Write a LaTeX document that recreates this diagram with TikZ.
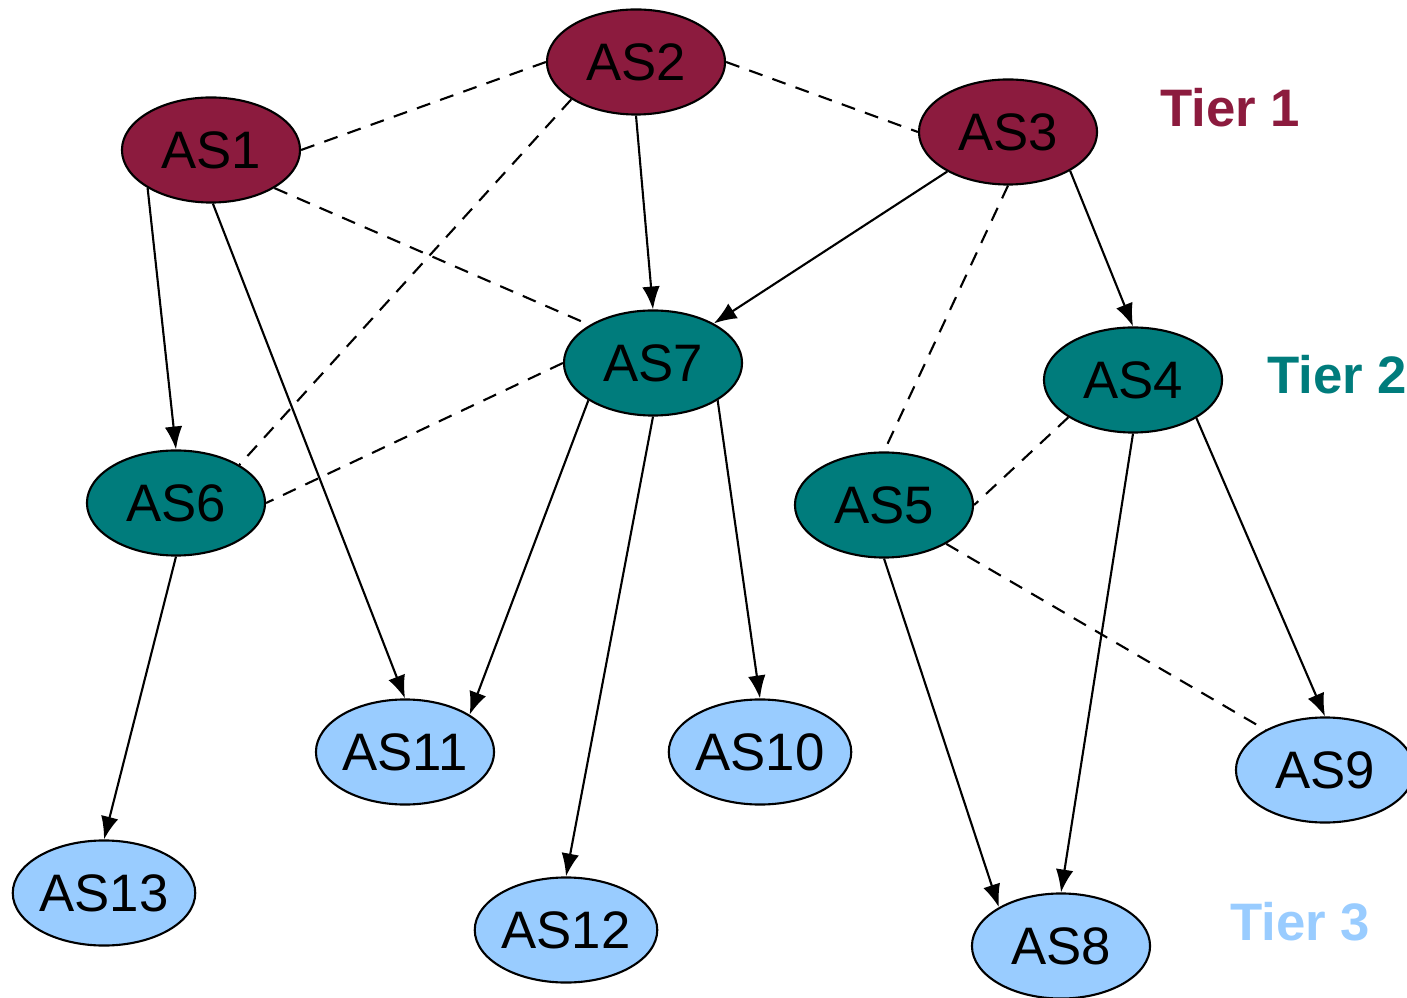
\documentclass[tikz,border=0pt]{standalone}
\usepackage{fontspec}
\setmainfont{Liberation Sans}
\usetikzlibrary{shapes.geometric,arrows.meta}

\definecolor{tieronecol}{RGB}{140,27,62}
\definecolor{tiertwocol}{RGB}{0,124,124}
\definecolor{tierthreecol}{RGB}{153,204,255}

\begin{document}
\begin{tikzpicture}[x=0.01cm,y=-0.01cm,
    as/.style={ellipse,draw=black,semithick,minimum width=1.78cm,minimum height=1.05cm,inner sep=0pt,font=\fontsize{15}{18}\selectfont},
    tierone/.style={as,fill=tieronecol},
    tiertwo/.style={as,fill=tiertwocol},
    tierthree/.style={as,fill=tierthreecol},
    tierlabel/.style={font=\fontsize{15}{18}\selectfont\bfseries},
    link/.style={semithick,-{Latex[length=6.5pt,width=5pt]}},
    peer/.style={semithick,dash pattern=on 4pt off 3pt}]
            \useasboundingbox (0,0) rectangle (1407,998);

            % tier 1
            \node[tierone] (as1) at (211,150) {AS1};
            \node[tierone] (as2) at (636,62) {AS2};
            \node[tierone] (as3) at (1008,132) {AS3};
            % tier 2
            \node[tiertwo] (as7) at (653,363) {AS7};
            \node[tiertwo] (as4) at (1133,380) {AS4};
            \node[tiertwo] (as6) at (176,503) {AS6};
            \node[tiertwo] (as5) at (884,505) {AS5};
            % tier 3
            \node[tierthree] (as11) at (405,752) {AS11};
            \node[tierthree] (as10) at (760,752) {AS10};
            \node[tierthree] (as9) at (1325,770) {AS9};
            \node[tierthree] (as13) at (104,893) {AS13};
            \node[tierthree] (as12) at (566,930) {AS12};
            \node[tierthree] (as8) at (1061,946) {AS8};

            \node[tierlabel,text=tieronecol] (t1) at (1230,108) {Tier 1};
            \node[tierlabel,text=tiertwocol] (t2) at (1337,375) {Tier 2};
            \node[tierlabel,text=tierthreecol] (t3) at (1300,922) {Tier 3};

            \draw[peer] (as1.east) -- (as2.west);
            \draw[peer] (as2.east) -- (as3.west);
            \draw[peer] (as2.210) -- (as6.31);
            \draw[peer] (as1.-31) -- (as7.149);
            \draw[peer] (as7.west) -- (as6.east);
            \draw[peer] (as3.south) -- (as5.north);
            \draw[peer] (as4.210) -- (as5.east);
            \draw[peer] (as5.-32) -- (as9.146);

            \draw[link] (as1.211) -- (as6.north);
            \draw[link] (as1.-88) -- (as11.north);
            \draw[link] (as2.south) -- (as7.north);
            \draw[link] (as3) -- (as7);
            \draw[link] (as3.-32) -- (as4.north);
            \draw[link] (as7.210) -- (as11.30);
            \draw[link] (as7.south) -- (as12.north);
            \draw[link] (as7.-30) -- (as10.north);
            \draw[link] (as6.south) -- (as13.north);
            \draw[link] (as5.south) -- (as8.148);
            \draw[link] (as4.south) -- (as8.north);
            \draw[link] (as4.-31) -- (as9.north);
        \end{tikzpicture}
\end{document}
